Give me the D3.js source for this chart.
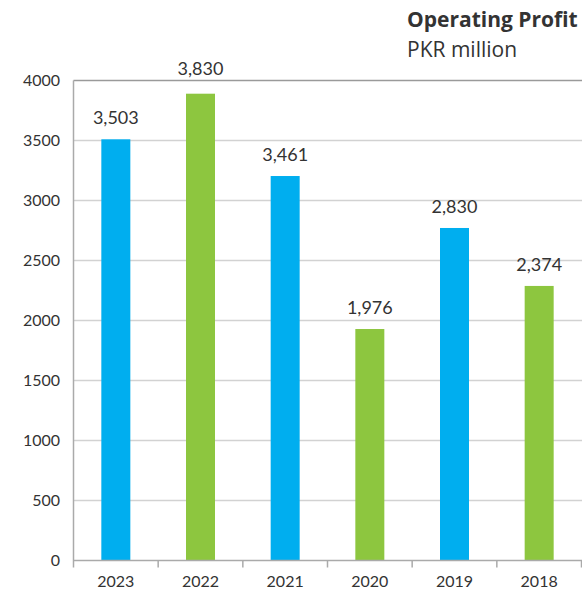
<!DOCTYPE html>
<html>
<head>
<meta charset="utf-8">
<script src="https://cdn.jsdelivr.net/npm/d3@7"></script>
<style>
  body { margin: 0; background: #fff; }
  svg text { font-family: "Lato", "Noto Sans", sans-serif; fill: #333; }
  svg text.title { font-family: "Open Sans", "Noto Sans", sans-serif; }
</style>
</head>
<body>
<div id="chart"></div>
<script>
// Operating profit by year, PKR million
const years = ['2023', '2022', '2021', '2020', '2019', '2018'];
const barValues = [3510, 3890, 3204, 1929, 2771, 2288];   // bar heights as drawn
const valueLabels = ['3,503', '3,830', '3,461', '1,976', '2,830', '2,374'];
const barColors = ['#00aeef', '#8dc63f', '#00aeef', '#8dc63f', '#00aeef', '#8dc63f'];
const yTicks = [0, 500, 1000, 1500, 2000, 2500, 3000, 3500, 4000];

const width = 582;
const height = 594;
const margin = { top: 80.5, right: 0.5, bottom: 33.5, left: 73.5 };

const svg = d3.select('#chart')
    .append('svg')
    .attr('width', width)
    .attr('height', height);

const x = d3.scaleBand()
    .domain(years)
    .range([margin.left, width - margin.right])
    .padding(0);

const y = d3.scaleLinear()
    .domain([0, 4000])
    .range([height - margin.bottom, margin.top]);

const barWidth = 29;

// gridlines
svg.append('g')
    .selectAll('line')
    .data(yTicks.filter(d => d > 0))
    .join('line')
    .attr('x1', margin.left)
    .attr('x2', width)
    .attr('y1', d => y(d))
    .attr('y2', d => y(d))
    .attr('stroke', d => d === 4000 ? '#9a9a9a' : '#d2d2d2')
    .attr('stroke-width', 1.4);

// y tick labels
svg.append('g')
    .selectAll('text')
    .data(yTicks)
    .join('text')
    .attr('x', 60)
    .attr('y', d => y(d))
    .attr('dy', '0.36em')
    .attr('text-anchor', 'end')
    .style('font-size', '16px')
    .text(d => d);

// bars
svg.append('g')
    .selectAll('rect')
    .data(years)
    .join('rect')
    .attr('x', d => x(d) + x.bandwidth() / 2 - barWidth / 2)
    .attr('y', (d, i) => y(barValues[i]))
    .attr('width', barWidth)
    .attr('height', (d, i) => y(0) - y(barValues[i]))
    .attr('fill', (d, i) => barColors[i]);

// value labels
svg.append('g')
    .selectAll('text')
    .data(years)
    .join('text')
    .attr('x', d => x(d) + x.bandwidth() / 2)
    .attr('y', (d, i) => y(barValues[i]) - (i === 1 ? 19 : 15))
    .attr('text-anchor', 'middle')
    .style('font-size', '18px')
    .text((d, i) => valueLabels[i]);

// y axis line
svg.append('line')
    .attr('x1', margin.left)
    .attr('x2', margin.left)
    .attr('y1', margin.top)
    .attr('y2', y(0) + 7)
    .attr('stroke', '#aaa')
    .attr('stroke-width', 1.5);

// x axis with ticks on band boundaries
const xAxis = svg.append('g')
    .attr('transform', `translate(0,${y(0)})`);

xAxis.append('line')
    .attr('x1', margin.left)
    .attr('x2', width)
    .attr('stroke', '#aaa')
    .attr('stroke-width', 1.5);

xAxis.selectAll('.tick')
    .data(years.slice(1).concat(['end']))
    .join('line')
    .attr('x1', (d, i) => margin.left + x.step() * (i + 1))
    .attr('x2', (d, i) => margin.left + x.step() * (i + 1))
    .attr('y1', 0)
    .attr('y2', 7)
    .attr('stroke', '#aaa')
    .attr('stroke-width', 1.5);

xAxis.selectAll('text')
    .data(years)
    .join('text')
    .attr('x', d => x(d) + x.bandwidth() / 2)
    .attr('y', 26.5)
    .attr('text-anchor', 'middle')
    .style('font-size', '16px')
    .text(d => d);

// title
svg.append('text')
    .attr('class', 'title')
    .attr('x', 407)
    .attr('y', 27)
    .style('font-size', '21px')
    .style('font-weight', 'bold')
    .text('Operating Profit');

svg.append('text')
    .attr('class', 'title')
    .attr('x', 407)
    .attr('y', 57)
    .style('font-size', '21px')
    .text('PKR million');
</script>
</body>
</html>
